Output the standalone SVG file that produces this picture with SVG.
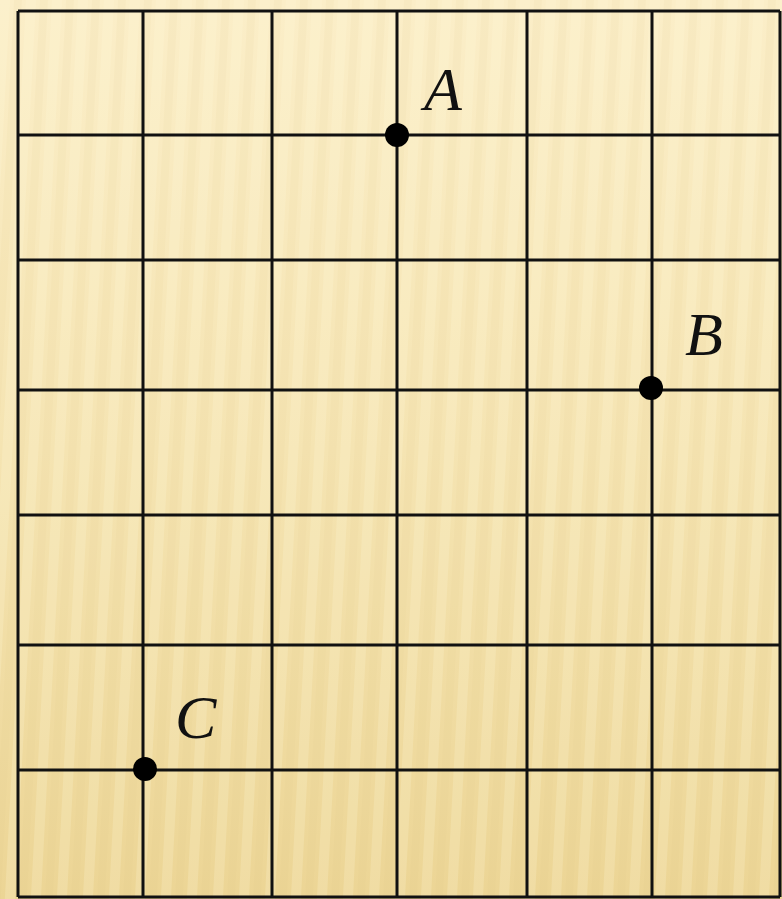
<svg xmlns="http://www.w3.org/2000/svg" width="782" height="899" viewBox="0 0 782 899">
<defs>
<linearGradient id="bg" x1="0" y1="0" x2="0" y2="1">
<stop offset="0" stop-color="#fbeec8"/>
<stop offset="0.5" stop-color="#f5e4b2"/>
<stop offset="1" stop-color="#ecd595"/>
</linearGradient>
<pattern id="stripes" width="26" height="899" patternUnits="userSpaceOnUse" patternTransform="skewX(-3)">
<rect x="0" y="0" width="10" height="899" fill="#fff8dc" opacity="0.2"/>
<rect x="14" y="0" width="8" height="899" fill="#d9c07a" opacity="0.08"/>
</pattern>
<style>
.g{stroke:#111;stroke-width:3;fill:none}
.pt{fill:#000}
.lb{font-family:"Liberation Serif","DejaVu Serif",serif;font-style:italic;font-size:62px;fill:#111}
</style>
</defs>
<rect width="782" height="899" fill="url(#bg)"/>
<rect width="782" height="899" fill="url(#stripes)"/>
<g id="grid" class="g">
<path d="M18 11V897M143 11V897M272 11V897M397 11V897M527 11V897M652 11V897M780 11V897"/>
<path d="M18 11H780M18 135H780M18 260H780M18 390H780M18 515H780M18 645H780M18 770H780M18 897H780"/>
</g>
<g id="A"><circle class="pt" cx="397" cy="135" r="12"/><text class="lb" x="424" y="110">A</text></g>
<g id="B"><circle class="pt" cx="651" cy="388" r="12"/><text class="lb" x="685" y="355">B</text></g>
<g id="C"><circle class="pt" cx="145" cy="769" r="12"/><text class="lb" x="175" y="738">C</text></g>
</svg>
